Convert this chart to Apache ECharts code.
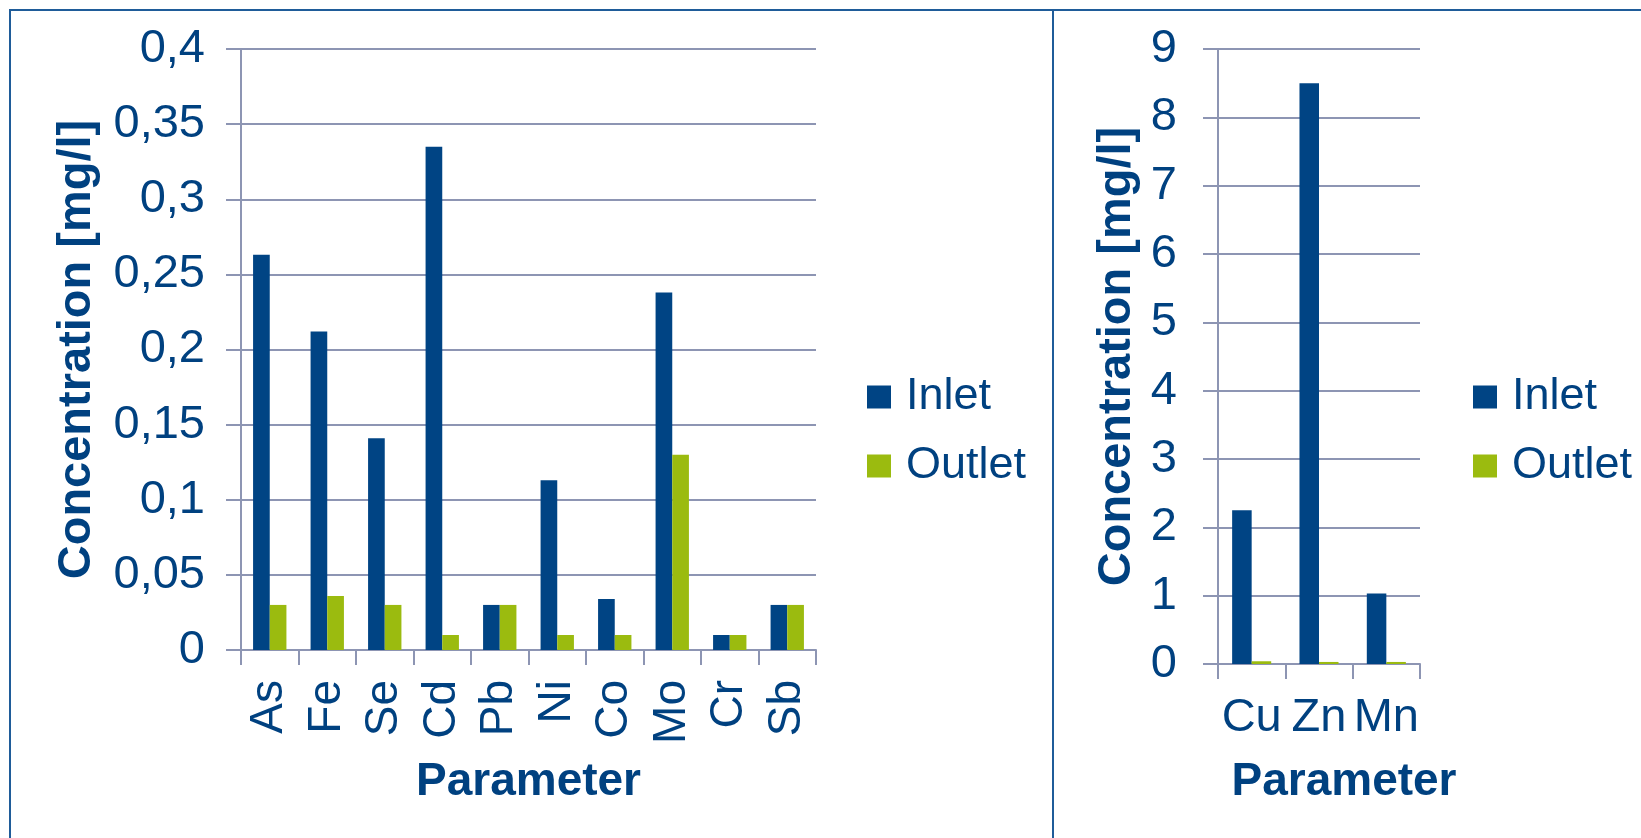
<!DOCTYPE html>
<html>
<head>
<meta charset="utf-8">
<script src="https://cdn.jsdelivr.net/npm/echarts@6/dist/echarts.min.js"></script>
<style>
html,body{margin:0;padding:0;background:#fff;}
#chart{width:1641px;height:838px;}
</style>
</head>
<body>
<div id="chart"></div>
<script>
// ---- data ----
const leftCategories = ['As', 'Fe', 'Se', 'Cd', 'Pb', 'Ni', 'Co', 'Mo', 'Cr', 'Sb'];
const leftInlet  = [0.263, 0.212, 0.141, 0.335, 0.030, 0.113, 0.034, 0.238, 0.010, 0.030];
const leftOutlet = [0.030, 0.036, 0.030, 0.010, 0.030, 0.010, 0.010, 0.130, 0.010, 0.030];
const rightCategories = ['Cu', 'Zn', 'Mn'];
const rightInlet  = [2.25, 8.50, 1.03];
const rightOutlet = [0.04, 0.03, 0.03];
const leftAxisRange = [0, 0.4, 0.05];
const rightAxisRange = [0, 9, 1];
const seriesNames = ['Inlet', 'Outlet'];
const yAxisTitle = 'Concentration [mg/l]';
const xAxisTitle = 'Parameter';

// ---- styles ----
const TXT = '#004180';
const GRID = '#8D95B3';
const INLET = '#004484';
const OUTLET = '#9BBB0F';
const FONT = '"Liberation Sans", Arial, sans-serif';

const fmtComma = v => parseFloat(v.toFixed(3)).toString().replace('.', ',');

const chart = echarts.init(document.getElementById('chart'), null, {renderer: 'canvas'});

function yAxisCfg(gridIndex, range, nameGap, labelMargin, formatter) {
  return {
    type: 'value', gridIndex: gridIndex,
    min: range[0], max: range[1], interval: range[2],
    name: yAxisTitle, nameLocation: 'middle', nameGap: nameGap, nameRotate: 90,
    nameTextStyle: {color: TXT, fontSize: 47, fontWeight: 'bold', fontFamily: FONT},
    axisLine: {show: true, lineStyle: {color: GRID, width: 2}},
    axisTick: {show: true, length: 15, lineStyle: {color: GRID, width: 2}},
    splitLine: {show: true, lineStyle: {color: GRID, width: 2}},
    axisLabel: {color: TXT, fontSize: 47, fontFamily: FONT, margin: labelMargin, formatter: formatter}
  };
}

function xAxisCfg(gridIndex, cats, rotate, fontSize, margin, nameGap, namePadding) {
  return {
    type: 'category', gridIndex: gridIndex, data: cats,
    name: xAxisTitle, nameLocation: 'middle', nameGap: nameGap,
    nameTextStyle: {color: TXT, fontSize: 46, fontWeight: 'bold', fontFamily: FONT, padding: namePadding},
    axisLine: {show: true, lineStyle: {color: GRID, width: 2}},
    axisTick: {show: true, length: 15, alignWithLabel: false, lineStyle: {color: GRID, width: 2}},
    splitLine: {show: false},
    axisLabel: {color: TXT, fontSize: fontSize, fontFamily: FONT, rotate: rotate, interval: 0, margin: margin}
  };
}

function legendCfg(left) {
  return {
    orient: 'vertical', left: left, top: 369,
    data: seriesNames,
    icon: 'rect', itemWidth: 24, itemHeight: 23, itemGap: 23,
    textStyle: {color: TXT, fontSize: 45, fontFamily: FONT, lineHeight: 46, padding: [0, 0, 0, 10]},
    selectedMode: false
  };
}

const option = {
  animation: false,
  backgroundColor: '#ffffff',
  grid: [
    {left: 241, top: 49, width: 575, height: 601, containLabel: false},
    {left: 1218, top: 49, width: 202, height: 615, containLabel: false}
  ],
  xAxis: [
    xAxisCfg(0, leftCategories, 90, 46, 30, 109, [0, 0, 0, 0]),
    xAxisCfg(1, rightCategories, 0, 47, 31, 95, [0, 0, 0, 50])
  ],
  yAxis: [
    yAxisCfg(0, leftAxisRange, 140, 36, v => fmtComma(v)),
    yAxisCfg(1, rightAxisRange, 77, 41, v => String(v))
  ],
  legend: [legendCfg(862), legendCfg(1468)],
  series: [
    {name: seriesNames[0], type: 'bar', xAxisIndex: 0, yAxisIndex: 0, data: leftInlet,
     itemStyle: {color: INLET}, barGap: '0%', barCategoryGap: '42%'},
    {name: seriesNames[1], type: 'bar', xAxisIndex: 0, yAxisIndex: 0, data: leftOutlet,
     itemStyle: {color: OUTLET}, barGap: '0%', barCategoryGap: '42%'},
    {name: seriesNames[0], type: 'bar', xAxisIndex: 1, yAxisIndex: 1, data: rightInlet,
     itemStyle: {color: INLET}, barGap: '0%', barCategoryGap: '42%'},
    {name: seriesNames[1], type: 'bar', xAxisIndex: 1, yAxisIndex: 1, data: rightOutlet,
     itemStyle: {color: OUTLET}, barGap: '0%', barCategoryGap: '42%'}
  ],
  graphic: [
    {type: 'polyline', silent: true, shape: {points: [[10, 838], [10, 10], [1641, 10]]},
     style: {stroke: '#1F5C99', lineWidth: 2, fill: null}},
    {type: 'line', silent: true, shape: {x1: 1053, y1: 10, x2: 1053, y2: 838},
     style: {stroke: '#1F5C99', lineWidth: 2}}
  ]
};

chart.setOption(option);
</script>
</body>
</html>
